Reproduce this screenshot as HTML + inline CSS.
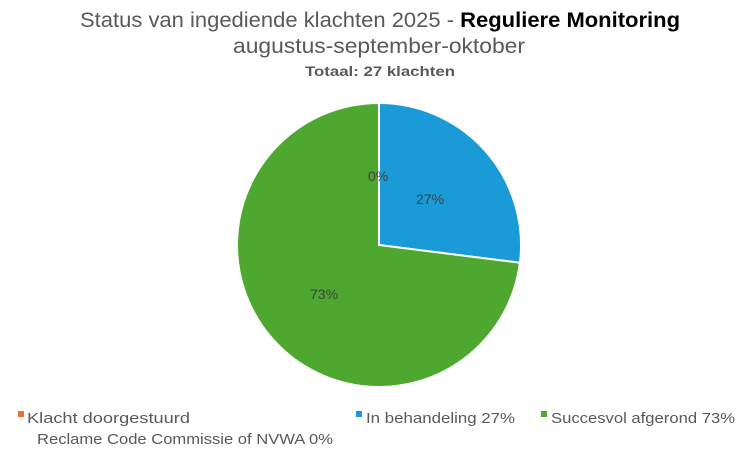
<!DOCTYPE html>
<html><head><meta charset="utf-8"><style>
html,body{margin:0;padding:0;background:#fff;}
svg{display:block;font-family:"Liberation Sans",sans-serif;}
</style></head><body>
<svg width="745" height="457" viewBox="0 0 745 457" xmlns="http://www.w3.org/2000/svg">
<rect width="745" height="457" fill="#fff"/>
<text x="80" y="27" font-size="21" fill="#595959" textLength="600" lengthAdjust="spacingAndGlyphs">Status van ingediende klachten 2025 - <tspan fill="#000" font-weight="bold">Reguliere Monitoring</tspan></text>
<text x="233" y="53" font-size="21" fill="#595959" textLength="292" lengthAdjust="spacingAndGlyphs">augustus-september-oktober</text>
<text x="305" y="76" font-size="14" font-weight="bold" fill="#595959" textLength="150" lengthAdjust="spacingAndGlyphs">Totaal: 27 klachten</text>
<!-- pie -->
<path d="M379,245 L379,103 A142,142 0 0 1 519.9,262.8 Z" fill="#1a9ad6" stroke="#fff" stroke-width="2"/>
<path d="M379,245 L519.9,262.8 A142,142 0 1 1 379,103 Z" fill="#4ea72e" stroke="#fff" stroke-width="2"/>
<g font-size="14" fill="#404040">
<text x="368" y="181">0%</text>
<text x="416" y="204">27%</text>
<text x="310" y="299">73%</text>
</g>
<g font-size="15" fill="#595959">
<rect x="18" y="411" width="6" height="6" fill="#e97132"/>
<text x="27" y="423" textLength="163" lengthAdjust="spacingAndGlyphs">Klacht doorgestuurd</text>
<text x="37" y="444" textLength="296" lengthAdjust="spacingAndGlyphs">Reclame Code Commissie of NVWA 0%</text>
<rect x="356" y="411" width="6" height="6" fill="#1a9ad6"/>
<text x="366" y="423" textLength="149" lengthAdjust="spacingAndGlyphs">In behandeling 27%</text>
<rect x="541" y="411" width="6" height="6" fill="#4ea72e"/>
<text x="551" y="423" textLength="184" lengthAdjust="spacingAndGlyphs">Succesvol afgerond 73%</text>
</g>
</svg>
</body></html>
